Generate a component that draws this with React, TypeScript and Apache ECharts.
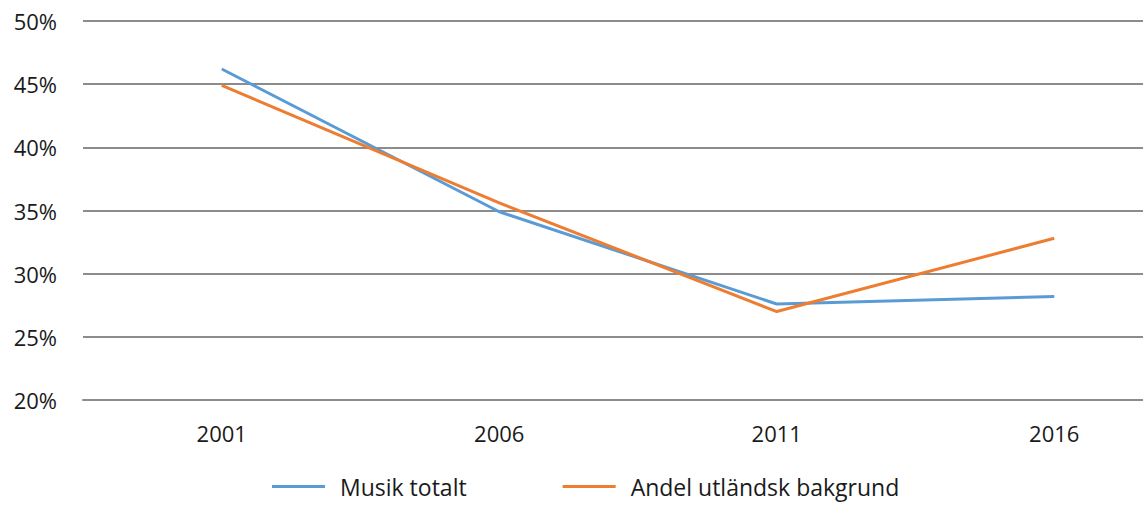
import React, { useEffect, useRef } from "react";
import * as echarts from "echarts";

const categories = ["2001", "2006", "2011", "2016"];
const musikTotalt = [46.2, 34.9, 27.6, 28.2];
const andelUtlandsk = [44.9, 35.6, 27.0, 32.8];
const seriesNames = ["Musik totalt", "Andel utländsk bakgrund"];

export default function App() {
  const ref = useRef<HTMLDivElement>(null);
  useEffect(() => {
    if (!ref.current) return;
    const chart = echarts.init(ref.current, null, { renderer: "svg" });
    const font = "'Open Sans', 'Noto Sans', sans-serif";
    chart.setOption({
      animation: false,
      backgroundColor: "#ffffff",
      grid: { left: 83, top: 21, right: 0, bottom: 107, containLabel: false },
      legend: {
        bottom: 4,
        left: 267,
        itemGap: 96,
        itemWidth: 53,
        itemHeight: 3,
        icon: "rect",
        textStyle: { fontFamily: font, fontSize: 23, color: "#1a1a1a", padding: [0, 0, 0, 10] },
        data: seriesNames,
      },
      xAxis: {
        type: "category",
        data: categories,
        boundaryGap: true,
        axisLine: { show: true, lineStyle: { color: "#8c8c8c", width: 2 } },
        axisTick: { show: false },
        axisLabel: { fontFamily: font, fontSize: 22, color: "#1a1a1a", margin: 22 },
      },
      yAxis: {
        type: "value",
        min: 20,
        max: 50,
        interval: 5,
        axisLine: { show: false },
        axisTick: { show: false },
        axisLabel: { fontFamily: font, fontSize: 22, color: "#1a1a1a", margin: 26, formatter: "{value}%" },
        splitLine: { lineStyle: { color: "#8c8c8c", width: 2 } },
      },
      series: [
        {
          name: seriesNames[0],
          type: "line",
          data: musikTotalt,
          symbol: "none",
          lineStyle: { color: "#5B9BD5", width: 3 },
          itemStyle: { color: "#5B9BD5" },
        },
        {
          name: seriesNames[1],
          type: "line",
          data: andelUtlandsk,
          symbol: "none",
          lineStyle: { color: "#ED7D31", width: 3 },
          itemStyle: { color: "#ED7D31" },
        },
      ],
    });
    return () => chart.dispose();
  }, []);
  return (
    <div
      style={{ position: "fixed", left: 0, top: 0, width: 1143, height: 507, overflow: "hidden", background: "#fff" }}
    >
      <div ref={ref} style={{ width: 1193, height: 507 }} />
    </div>
  );
}
